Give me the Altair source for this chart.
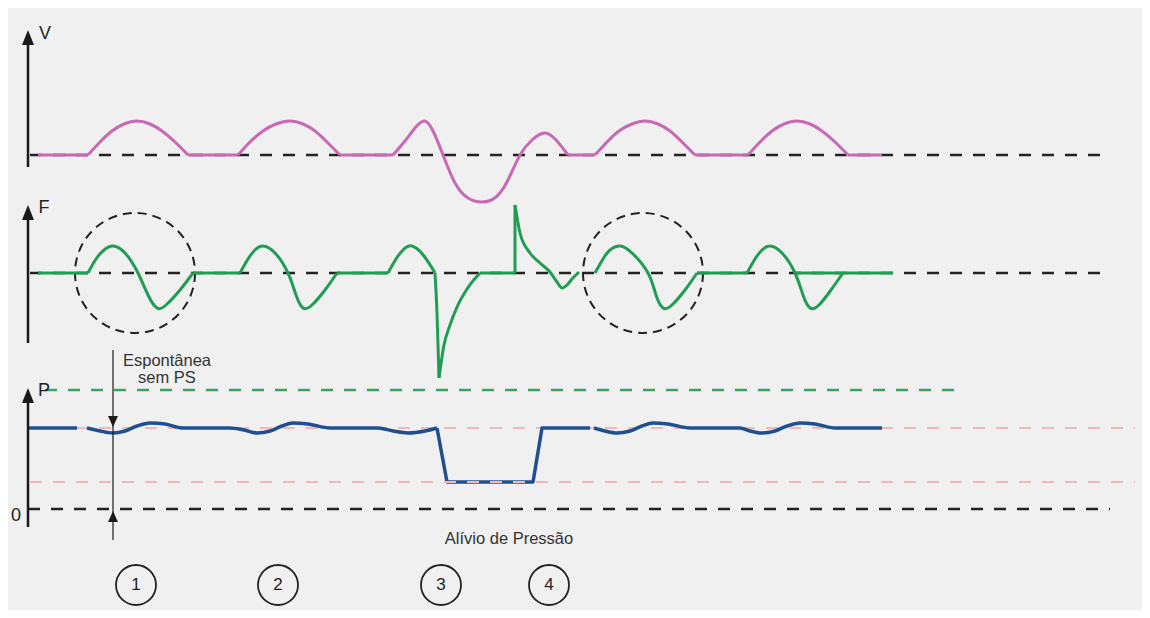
import altair as alt
import pandas as pd

# ---------------- data ----------------
# Panel baselines (vertical position of each panel's zero line, in picture units)
V_BASE = 155
F_BASE = 273
P_BASE = 509

# Volume (V): segments of time / value above the V baseline
V_T = [
    [38, 88],
    [88, 100, 112, 124, 137, 150, 162, 175, 188],
    [188, 238],
    [238, 250, 263, 276, 290, 303, 315, 327, 340],
    [340, 393],
    [393, 405, 415, 425, 434, 443, 455, 468, 482, 496, 508, 520, 532, 545, 557, 568],
    [568, 595],
    [595, 607, 619, 632, 645, 658, 670, 682, 695],
    [695, 748],
    [748, 760, 772, 784, 797, 810, 822, 835, 848],
    [848, 882],
]
V_V = [
    [0, 0],
    [0, 13, 24, 31, 34, 31, 24, 13, 0],
    [0, 0],
    [0, 13, 24, 31, 34, 31, 24, 13, 0],
    [0, 0],
    [0, 14, 27, 34, 22, 0, -28, -43, -47, -42, -25, 0, 15, 22, 14, 0],
    [0, 0],
    [0, 13, 24, 31, 34, 31, 24, 13, 0],
    [0, 0],
    [0, 13, 24, 31, 34, 31, 24, 13, 0],
    [0, 0],
]

# Flow (F): smooth segments
F_T = [
    [38, 88],
    [88, 96, 104, 113, 125, 138, 148, 157, 166, 180, 193],
    [193, 240],
    [240, 248, 255, 263, 275, 288, 296, 303, 312, 325, 337],
    [337, 388],
    [388, 396, 403, 412, 424, 435],
    [480, 515],
    [595, 603, 610, 620, 632, 648, 656, 663, 672, 685, 697],
    [697, 747],
    [747, 755, 762, 770, 782, 795, 803, 810, 819, 831, 843],
    [795, 893],
]
F_V = [
    [0, 0],
    [0, 14, 23, 27, 20, 0, -22, -35, -32, -17, 0],
    [0, 0],
    [0, 14, 23, 27, 20, 0, -22, -35, -32, -17, 0],
    [0, 0],
    [0, 14, 23, 27, 17, 0],
    [0, 0],
    [0, 14, 23, 27, 20, 0, -22, -35, -32, -17, 0],
    [0, 0],
    [0, 14, 23, 27, 20, 0, -22, -35, -32, -17, 0],
    [0, 0],
]
# Flow: sharp transients (spike, recovery, jump, decay)
F_SHARP_T = [
    [435, 437, 439],
    [439, 444, 450, 457, 467, 480],
    [515, 520, 530, 540, 550, 557, 562, 567, 572, 579],
]
F_SHARP_V = [
    [0, -40, -105],
    [-105, -72, -52, -34, -16, 0],
    [68, 40, 20, 10, 1, -9, -15, -12, -6, 1],
]
F_LIN_T = [[515, 515]]
F_LIN_V = [[0, 68]]

# Pressure (P): smooth segments (value above the zero line)
P_T = [
    [28, 77],
    [87, 100, 113, 125, 137, 150, 165, 182, 230, 244, 257, 270, 282, 293, 308, 330,
     378, 393, 408, 425, 437],
    [594, 605, 617, 630, 642, 653, 668, 690, 740, 750, 762, 775, 787, 800, 815, 835, 882],
]
P_V = [
    [81, 81],
    [81, 78, 76, 78, 83, 86, 85, 81, 81, 79, 76, 78, 83, 86, 85, 81,
     81, 78, 76, 78, 81],
    [81, 78, 76, 78, 83, 86, 85, 81, 81, 78, 76, 78, 83, 86, 85, 81, 81],
]
# Pressure relief (straight)
P_LIN_T = [[437, 447, 533, 542, 590]]
P_LIN_V = [[81, 27, 27, 81, 81]]

# Reference levels
BLACK_LEVELS = [(V_BASE, 0, 30, 1110), (F_BASE, 0, 30, 1110), (P_BASE, 0, 28, 1110)]
GREEN_LEVEL = [(P_BASE, 119, 45, 956)]
PINK_HIGH = [(P_BASE, 81, 30, 1135)]
PINK_LOW = [(P_BASE, 27, 30, 1135)]

# Axes (x, top, bottom) and arrow heads
AXES = [(28, 45, 167), (28, 219, 343), (28, 402, 527)]
AXIS_TIPS = [(28, 37.5), (28, 212.5), (28, 395.5)]
AXIS_LABELS = [("V", 45, 34), ("F", 44, 208), ("P", 44, 391), ("0", 16, 516)]

# Annotations
NOTE_TEXT = [("Espontânea", 167, 361), ("sem PS", 167, 378), ("Alívio de Pressão", 509, 539)]
CIRCLE_NUMS = [("1", 136, 585), ("2", 278, 585), ("3", 441, 585), ("4", 549, 585)]
DASH_CIRCLES = [(135, F_BASE), (643, F_BASE)]

# ---------------- build ----------------
X = alt.X("x:Q", scale=alt.Scale(domain=[8, 1142], nice=False, zero=False), axis=None)
Y = alt.Y("y:Q", scale=alt.Scale(domain=[610, 8], nice=False, zero=False), axis=None)


def seg_df(ts_list, vs_list, base, name):
    rows = []
    for k, (ts, vs) in enumerate(zip(ts_list, vs_list)):
        for i, (t, v) in enumerate(zip(ts, vs)):
            rows.append({"x": t, "y": base - v, "seg": f"{name}{k}", "i": i})
    return pd.DataFrame(rows)


def line_layer(df, color, width, interp):
    return alt.Chart(df).mark_line(
        color=color, strokeWidth=width, interpolate=interp, strokeJoin="round"
    ).encode(x=X, y=Y, detail="seg:N", order="i:Q")


def rule_layer(levels, color, width, dash):
    df = pd.DataFrame(
        [{"x": a, "x2": b, "y": base - v} for base, v, a, b in levels]
    )
    return alt.Chart(df).mark_rule(
        color=color, strokeWidth=width, strokeDash=dash
    ).encode(x=X, x2="x2:Q", y=Y)


def text_layer(items, size, color, font="Liberation Sans"):
    df = pd.DataFrame([{"t": t, "x": x, "y": y} for t, x, y in items])
    return alt.Chart(df).mark_text(
        fontSize=size, color=color, font=font, baseline="middle", align="center"
    ).encode(x=X, y=Y, text="t:N")


def point_layer(items, shape, size, fill=None, stroke=None, width=1, dash=None):
    df = pd.DataFrame([{"x": x, "y": y} for x, y in items])
    kw = dict(shape=shape, size=size, strokeWidth=width, opacity=1)
    if fill:
        kw.update(filled=True, color=fill, fillOpacity=1)
    else:
        kw.update(filled=False, stroke=stroke, strokeOpacity=1, fillOpacity=0)
    if dash:
        kw["strokeDash"] = dash
    return alt.Chart(df).mark_point(**kw).encode(x=X, y=Y)


MAGENTA = "#c76ab3"
GREEN = "#1f9d52"
BLUE = "#1f4f8e"
PINK = "#f1b8b8"
GREEN_DASH = "#2ea862"
BLACK = "#1a1a1a"

v_df = seg_df(V_T, V_V, V_BASE, "v")
f_df = seg_df(F_T, F_V, F_BASE, "f")
f_sharp = seg_df(F_SHARP_T, F_SHARP_V, F_BASE, "fs")
f_lin = seg_df(F_LIN_T, F_LIN_V, F_BASE, "fl")
p_df = seg_df(P_T, P_V, P_BASE, "p")
p_lin = seg_df(P_LIN_T, P_LIN_V, P_BASE, "pl")

axes_df = pd.DataFrame([{"x": x, "y": a, "y2": b} for x, a, b in AXES])
axes = alt.Chart(axes_df).mark_rule(color=BLACK, strokeWidth=2.5).encode(x=X, y=Y, y2="y2:Q")

note_line_df = pd.DataFrame([{"x": 113, "y": 350, "y2": 540}])
note_line = alt.Chart(note_line_df).mark_rule(color=BLACK, strokeWidth=1.2).encode(
    x=X, y=Y, y2="y2:Q")

layers = [
    rule_layer(BLACK_LEVELS, "#222222", 2.5, [12, 11]),
    rule_layer(GREEN_LEVEL, GREEN_DASH, 2.5, [12, 11]),
    rule_layer(PINK_HIGH, PINK, 2, [12, 11]),
    point_layer(DASH_CIRCLES, "circle", 14400, stroke="#222222", width=2, dash=[9, 6]),
    line_layer(v_df, MAGENTA, 3, "natural"),
    line_layer(f_df, GREEN, 3, "natural"),
    line_layer(f_sharp, GREEN, 3, "monotone"),
    line_layer(f_lin, GREEN, 3, "linear"),
    line_layer(p_df, BLUE, 3.5, "monotone"),
    line_layer(p_lin, BLUE, 3.5, "linear"),
    rule_layer(PINK_LOW, PINK, 2, [12, 11]),
    axes,
    point_layer(AXIS_TIPS, "M0,-1L-0.8,1L0.8,1Z", 225, fill=BLACK),
    note_line,
    point_layer([(113, 421.5)], "M0,1L-0.9,-1L0.9,-1Z", 121, fill=BLACK),
    point_layer([(113, 516.5)], "M0,-1L-0.9,1L0.9,1Z", 121, fill=BLACK),
    text_layer(AXIS_LABELS, 18, "#222222"),
    text_layer(NOTE_TEXT, 16.5, "#333333"),
    point_layer([(x, y) for _, x, y in CIRCLE_NUMS], "circle", 1600, stroke="#222222", width=1.8),
    text_layer(CIRCLE_NUMS, 17, "#222222"),
]

chart = alt.layer(*layers).properties(
    width=1134,
    height=602,
    padding=0,
    background="#f0f0f0",
    autosize=alt.AutoSizeParams(type="fit", contains="padding"),
).configure_view(stroke=None)

chart.save("out.html", embed_options={"renderer": "svg", "actions": False})
